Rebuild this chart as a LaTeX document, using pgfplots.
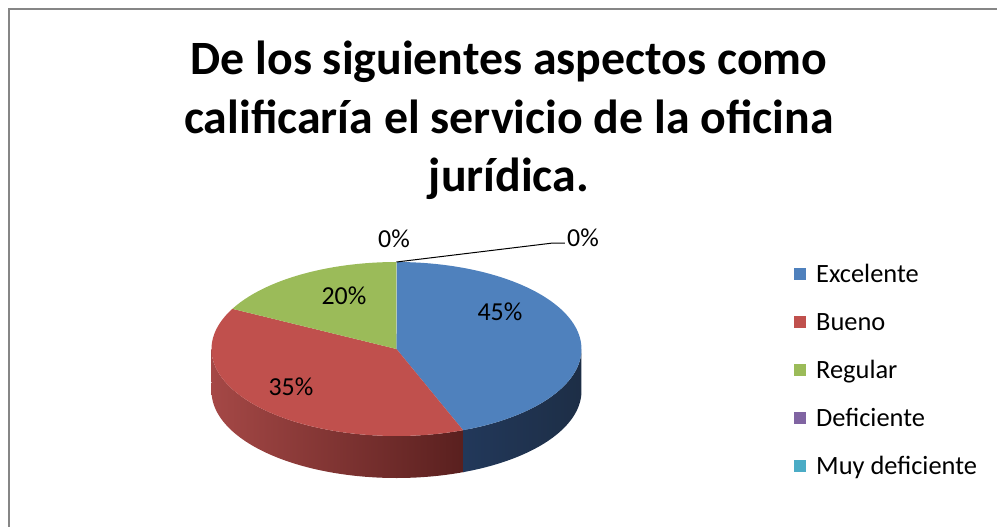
\documentclass[border=0pt]{standalone}
\usepackage{pgfplots}
\pgfplotsset{compat=1.18}
\usepackage{fontspec}
\setmainfont{Carlito}
\definecolor{cblue}{HTML}{4F81BD}
\definecolor{cred}{HTML}{C0504D}
\definecolor{cgreen}{HTML}{9BBB59}
\definecolor{cpurple}{HTML}{8064A2}
\definecolor{ccyan}{HTML}{4BACC6}
\definecolor{sideBlueL}{HTML}{22385A}
\definecolor{sideBlueR}{HTML}{1D2E46}
\definecolor{sideRedL}{HTML}{A54846}
\definecolor{sideRedR}{HTML}{581F1E}
\definecolor{bordergray}{HTML}{868686}
% data (percent)
\def\vA{45}\def\vB{35}\def\vC{20}\def\vD{0}\def\vE{0}
% pie geometry (pixels)
\def\cx{396.5}\def\cy{349}\def\ra{185}\def\rb{87}\def\dep{42}
\begin{document}%
\begin{tikzpicture}
% cumulative angles, clockwise from 12 o'clock, with a slight perspective warp
\pgfmathsetmacro\aA{90}
\pgfmathsetmacro\aB{\aA-3.6*\vA}
\pgfmathsetmacro\aC{\aB-3.6*\vB}
\pgfmathsetmacro\aD{\aC-3.6*\vC}
\pgfmathsetmacro\wA{\aA+10*cos(\aA)}
\pgfmathsetmacro\wB{\aB+10*cos(\aB)}
\pgfmathsetmacro\wC{\aC+10*cos(\aC)}
\pgfmathsetmacro\wD{\aD+10*cos(\aD)}
\pgfmathsetmacro\wBx{\wB+1.5}
\begin{axis}[
  at={(0,0)}, anchor=south west,
  width=997bp, height=527bp, scale only axis,
  xmin=0, xmax=997, ymin=0, ymax=527, y dir=reverse,
  hide axis, clip=false,
  legend style={at={(axis cs:794,260)}, anchor=north west, draw=none, fill=none,
    font=\fontsize{26.5}{26.5}\selectfont, row sep=21bp, inner sep=0pt,
    nodes={inner sep=0pt, text height=22bp, text depth=5bp},
    /tikz/every odd column/.append style={column sep=10bp}},
  legend cell align=left,
  legend image code/.code={\fill[#1, draw=none] (0bp,-6bp) rectangle (12bp,6bp);},
]
% border
\draw[bordergray, line width=2bp] (axis cs:9.5,527) -- (axis cs:9.5,9.5) -- (axis cs:997,9.5);
% side walls (front half only)
\addplot[forget plot, draw=none, left color=sideRedL, right color=sideRedR,
  domain=0:2, samples=201, variable=\t]
  ({\cx+\ra*cos(ifthenelse(\t<=1, -180+(\wBx+180)*\t, \wBx-(\wBx+180)*(\t-1)))},
   {\cy-\rb*sin(ifthenelse(\t<=1, -180+(\wBx+180)*\t, \wBx-(\wBx+180)*(\t-1)))+ifthenelse(\t<=1,0,\dep)}) -- cycle;
\addplot[forget plot, draw=none, left color=sideBlueL, right color=sideBlueR,
  domain=0:2, samples=201, variable=\t]
  ({\cx+\ra*cos(ifthenelse(\t<=1, \wB+(0-\wB)*\t, 0-(0-\wB)*(\t-1)))},
   {\cy-\rb*sin(ifthenelse(\t<=1, \wB+(0-\wB)*\t, 0-(0-\wB)*(\t-1)))+ifthenelse(\t<=1,0,\dep)}) -- cycle;
% top faces
\addplot[forget plot, fill=cblue, draw=none, domain=\wB:\wA, samples=90, variable=\t]
  ({\cx+\ra*cos(\t)},{\cy-\rb*sin(\t)}) -- (axis cs:\cx,\cy) -- cycle;
\addplot[forget plot, fill=cred, draw=none, domain=\wC:\wB, samples=90, variable=\t]
  ({\cx+\ra*cos(\t)},{\cy-\rb*sin(\t)}) -- (axis cs:\cx,\cy) -- cycle;
\addplot[forget plot, fill=cgreen, draw=none, domain=\wD:\wC, samples=60, variable=\t]
  ({\cx+\ra*cos(\t)},{\cy-\rb*sin(\t)}) -- (axis cs:\cx,\cy) -- cycle;
% leader line
\draw[black, line width=1bp] (axis cs:\cx,262) -- (axis cs:553,243) -- (axis cs:565,243);
% data labels
\node[font=\fontsize{26}{26}\selectfont] at (axis cs:500,312) {45\%};
\node[font=\fontsize{26}{26}\selectfont] at (axis cs:291,387) {35\%};
\node[font=\fontsize{26}{26}\selectfont] at (axis cs:344,296) {20\%};
\node[font=\fontsize{26}{26}\selectfont] at (axis cs:394,239) {0\%};
\node[font=\fontsize{26}{26}\selectfont] at (axis cs:583,238) {0\%};
% title
\node[font=\fontsize{48}{58}\selectfont\bfseries, anchor=base] at (axis cs:509,75) {De los siguientes aspectos como};
\node[font=\fontsize{48}{58}\selectfont\bfseries, anchor=base] at (axis cs:509,133) {calificaría el servicio de la oficina};
\node[font=\fontsize{48}{58}\selectfont\bfseries, anchor=base] at (axis cs:509,191) {jurídica.};
% legend
\addlegendimage{fill=cblue}\addlegendentry{Excelente}
\addlegendimage{fill=cred}\addlegendentry{Bueno}
\addlegendimage{fill=cgreen}\addlegendentry{Regular}
\addlegendimage{fill=cpurple}\addlegendentry{Deficiente}
\addlegendimage{fill=ccyan}\addlegendentry{Muy deficiente}
\end{axis}
\pgfresetboundingbox
\path (0,0) rectangle (997bp,527bp);
\end{tikzpicture}%
\end{document}
